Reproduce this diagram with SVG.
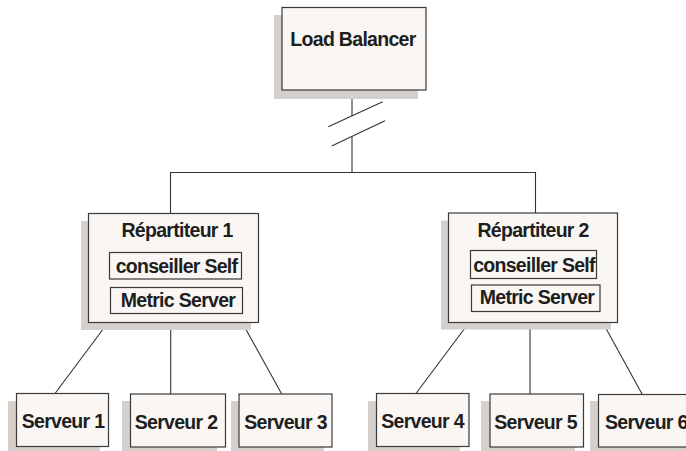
<svg xmlns="http://www.w3.org/2000/svg" width="686" height="451" viewBox="0 0 686 451">
<defs>
<style>
.box{fill:#f9f6f3;stroke:#3a3a3a;stroke-width:1.2}
.sh{fill:#d6d0cd}
.in{fill:none;stroke:#3a3a3a;stroke-width:1.2}
.t{font-family:"Liberation Sans",Arial,sans-serif;font-weight:bold;font-size:19.5px;letter-spacing:-0.7px;fill:#1e1e1e;text-anchor:middle}
.c{stroke:#333;stroke-width:1.1;fill:none}
</style>
</defs>
<rect width="686" height="451" fill="#ffffff"/>
<g id="connectors">
<line class="c" x1="352" y1="90" x2="352" y2="116"/>
<line class="c" x1="352" y1="136.5" x2="352" y2="172.5"/>
<line class="c" x1="328.3" y1="126.7" x2="382.7" y2="101.7"/>
<line class="c" x1="331.7" y1="146" x2="385" y2="120.7"/>
<polyline class="c" points="170.5,213 170.5,172.5 535.5,172.5 535.5,213"/>
<line class="c" x1="107.3" y1="323.5" x2="55" y2="393.5"/>
<line class="c" x1="170.7" y1="323.5" x2="170.7" y2="394"/>
<line class="c" x1="242.7" y1="323.5" x2="281.7" y2="394"/>
<line class="c" x1="468.3" y1="323.5" x2="416" y2="393.5"/>
<line class="c" x1="530" y1="323.5" x2="530" y2="394"/>
<line class="c" x1="603.3" y1="323.5" x2="642.3" y2="394.5"/>
</g>
<g id="load-balancer">
<rect class="sh" x="274" y="15" width="144" height="84"/>
<rect class="box" x="282" y="7.5" width="144" height="82.5"/>
<text class="t" x="353" y="46">Load Balancer</text>
</g>
<g id="repartiteur-1">
<rect class="sh" x="81" y="221" width="170" height="109"/>
<rect class="box" x="88.5" y="213.5" width="170" height="109"/>
<text class="t" x="177" y="237">Répartiteur 1</text>
<rect class="in" x="109.5" y="252.5" width="132" height="26.5"/>
<text class="t" x="176.5" y="272.5">conseiller Self</text>
<rect class="in" x="110.5" y="287.5" width="132" height="26"/>
<text class="t" x="178" y="306.5">Metric Server</text>
</g>
<g id="repartiteur-2">
<rect class="sh" x="441" y="220.5" width="170" height="109"/>
<rect class="box" x="448.5" y="213" width="169" height="109.5"/>
<text class="t" x="533" y="236.5">Répartiteur 2</text>
<rect class="in" x="470.5" y="250.5" width="126" height="28"/>
<text class="t" x="534" y="271.5">conseiller Self</text>
<rect class="in" x="471.5" y="285" width="128.5" height="26.5"/>
<text class="t" x="537" y="304">Metric Server</text>
</g>
<g id="serveur-1">
<rect class="sh" x="8" y="401" width="92" height="52"/>
<rect class="box" x="16.5" y="393.5" width="92" height="53"/>
<text class="t" x="63" y="428">Serveur 1</text>
</g>
<g id="serveur-2">
<rect class="sh" x="122" y="401" width="95" height="52"/>
<rect class="box" x="130.5" y="394" width="95" height="53"/>
<text class="t" x="176" y="428.5">Serveur 2</text>
</g>
<g id="serveur-3">
<rect class="sh" x="231" y="401" width="93" height="52"/>
<rect class="box" x="239" y="394" width="93" height="53"/>
<text class="t" x="285.5" y="428.5">Serveur 3</text>
</g>
<g id="serveur-4">
<rect class="sh" x="368" y="401" width="92" height="52"/>
<rect class="box" x="376.5" y="393.5" width="92.5" height="53"/>
<text class="t" x="422.5" y="428">Serveur 4</text>
</g>
<g id="serveur-5">
<rect class="sh" x="481" y="401" width="94" height="52"/>
<rect class="box" x="490" y="394" width="93.5" height="53"/>
<text class="t" x="535.5" y="428.5">Serveur 5</text>
</g>
<g id="serveur-6">
<rect class="sh" x="590" y="401" width="100" height="52"/>
<rect class="box" x="598.5" y="394.5" width="100" height="52.5"/>
<text class="t" x="605" y="428.5" style="text-anchor:start">Serveur 6</text>
</g>
</svg>
